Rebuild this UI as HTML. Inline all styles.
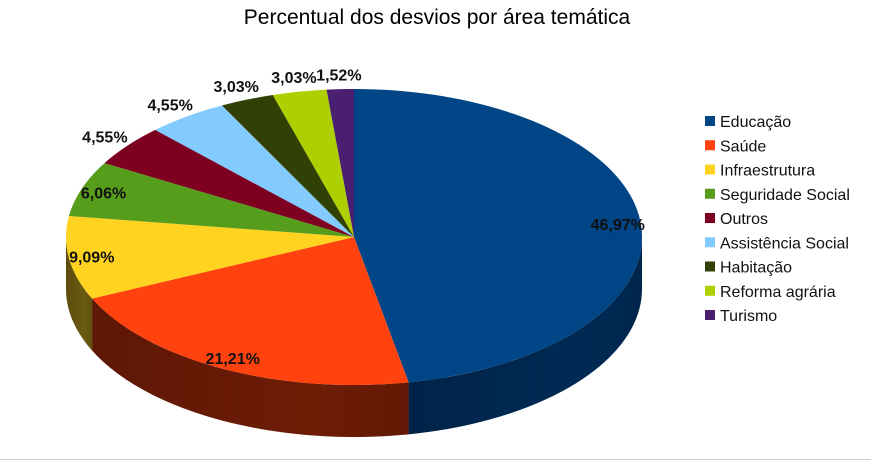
<!DOCTYPE html>
<html><head><meta charset="utf-8">
<style>
html,body{margin:0;padding:0;background:#fff;}
svg{display:block;font-family:"Liberation Sans",sans-serif;}
</style></head>
<body>
<svg id="chart" width="871" height="461" viewBox="0 0 871 461">
  <defs>
    <linearGradient id="shade" x1="0" y1="0" x2="1" y2="0">
      <stop offset="0" stop-color="#000" stop-opacity="0.15"/>
      <stop offset="0.7" stop-color="#000" stop-opacity="0"/>
      <stop offset="1" stop-color="#000" stop-opacity="0.1"/>
    </linearGradient>
  </defs>
  <line x1="0" y1="459.5" x2="871" y2="459.5" stroke="#ccc"/>
  <text x="437" y="24" text-anchor="middle" font-size="21" fill="#000">Percentual dos desvios por área temática</text>
  <g id="sides"></g>
  <g id="tops"></g>
  <g id="labels"></g>
  <g id="legend"></g>
</svg>
<script>
const categories = ["Educação","Saúde","Infraestrutura","Seguridade Social","Outros","Assistência Social","Habitação","Reforma agrária","Turismo"];
const values = [46.97,21.21,9.09,6.06,4.55,4.55,3.03,3.03,1.52];
const valueLabels = ["46,97%","21,21%","9,09%","6,06%","4,55%","4,55%","3,03%","3,03%","1,52%"];
const colors = ["#004586","#ff420e","#ffd320","#579d1c","#7e0021","#83caff","#314004","#aecf00","#4b1f6f"];
const sideColors = ["#002a55","#6e1c06","#6b5a10","#2f5510","#4a0013","#4a7a9a","#1c2502","#627500","#2a1040"];

const NS="http://www.w3.org/2000/svg";
const cx=354, cy=237, rx=288, ry=148, depth=52;
function pt(deg,dy,f){const a=deg*Math.PI/180;f=f||1;return [cx+rx*f*Math.sin(a), cy-ry*f*Math.cos(a)+(dy||0)];}
const total=values.reduce((s,v)=>s+v,0);
const sides=document.getElementById('sides'),tops=document.getElementById('tops'),labels=document.getElementById('labels'),legend=document.getElementById('legend');
let cum=0;
values.forEach((v,i)=>{
  const a0=cum/total*360, a1=(cum+v)/total*360; cum+=v;
  const s0=Math.max(a0,90), s1=Math.min(a1,270);
  if(s1>s0){
    let d="", n=40, top=[], bot=[];
    for(let k=0;k<=n;k++){const a=s0+(s1-s0)*k/n;top.push(pt(a,0));bot.push(pt(a,depth));}
    d="M"+top.map(p=>p.join(",")).join(" L")+" L"+bot.reverse().map(p=>p.join(",")).join(" L")+" Z";
    const p=document.createElementNS(NS,'path');
    p.setAttribute('d',d);p.setAttribute('fill',sideColors[i]);
    
    
    sides.appendChild(p);
    const p2=document.createElementNS(NS,'path');
    p2.setAttribute('d',d);p2.setAttribute('fill','url(#shade)');
    
    
    sides.appendChild(p2);
  }
  let d="M"+cx+","+cy, n=Math.max(4,Math.ceil((a1-a0)/2));
  for(let k=0;k<=n;k++){const p=pt(a0+(a1-a0)*k/n,0);d+=" L"+p[0]+","+p[1];}
  d+=" Z";
  const s=document.createElementNS(NS,'path');
  s.setAttribute('d',d);s.setAttribute('fill',colors[i]);
  
  
  tops.appendChild(s);
  const mid=(a0+a1)/2, f=v>5?0.92:1.1;
  const lp=pt(mid,0,f);
  const t=document.createElementNS(NS,'text');
  t.setAttribute('x',lp[0]);t.setAttribute('y',lp[1]+6);
  t.setAttribute('text-anchor','middle');t.setAttribute('font-size','16');t.setAttribute('font-weight','bold');t.setAttribute('fill','#111');
  t.textContent=valueLabels[i];
  
  
  labels.appendChild(t);
  const y=121+i*24.25;
  const r=document.createElementNS(NS,'rect');
  r.setAttribute('x',705);r.setAttribute('y',y-5);r.setAttribute('width',10);r.setAttribute('height',10);r.setAttribute('fill',colors[i]);
  
  
  legend.appendChild(r);
  const lt=document.createElementNS(NS,'text');
  lt.setAttribute('x',720);lt.setAttribute('y',y+6);lt.setAttribute('font-size','16');lt.setAttribute('fill','#111');
  lt.textContent=categories[i];
  
  
  legend.appendChild(lt);
});
</script>
</body></html>
